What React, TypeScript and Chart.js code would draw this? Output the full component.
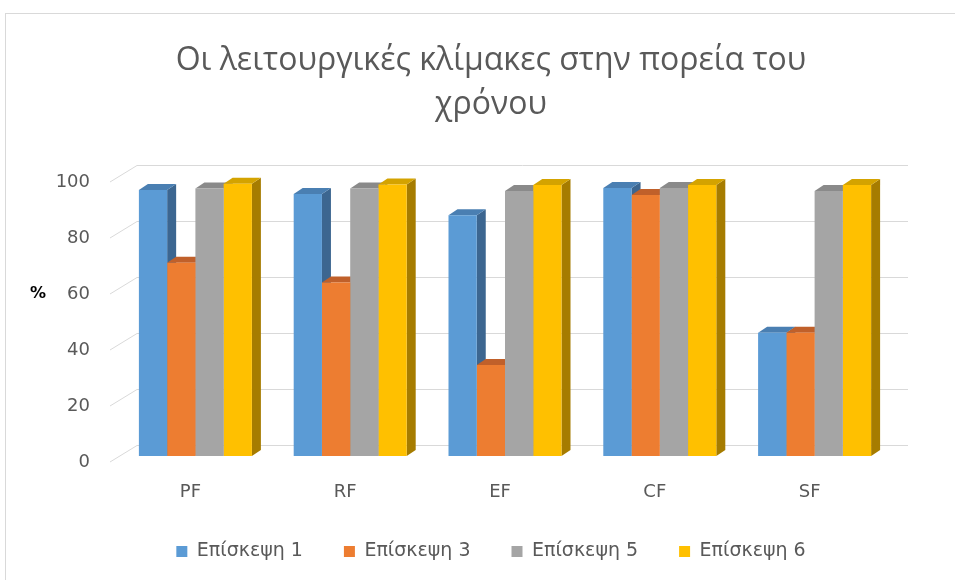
import React, { useEffect, useRef } from "react";
import { Chart, registerables } from "chart.js";

Chart.register(...registerables);

const categories = ["PF", "RF", "EF", "CF", "SF"];
const seriesNames = ["Επίσκεψη 1", "Επίσκεψη 3", "Επίσκεψη 5", "Επίσκεψη 6"];
const visit1 = [95, 93.6, 86, 95.7, 44];
const visit3 = [69, 62, 32.5, 93.2, 44];
const visit5 = [95.5, 95.5, 94.6, 95.7, 94.6];
const visit6 = [97.2, 97, 96.8, 96.8, 96.8];
const yTicks = [0, 20, 40, 60, 80, 100];
const titleLines = ["Οι λειτουργικές κλίμακες στην πορεία του", "χρόνου"];
const axisUnit = "%";

const frontColors = ["#5B9BD5", "#ED7D31", "#A5A5A5", "#FFC000"];
const topColors = ["#4a7fb2", "#c0602a", "#8a8a8a", "#d4a300"];
const sideColors = ["#3c6690", "#a9531c", "#7b7b7b", "#a67c00"];

const textColor = "#595959";
const gridColor = "#d9d9d9";

const depthPlugin = {
  id: "depth3d",
  beforeDraw(chart: any) {
    const ctx = chart.ctx;
    ctx.save();
    ctx.strokeStyle = gridColor;
    ctx.lineWidth = 1;
    ctx.strokeRect(5.5, 13.5, 2000, 2000);
    ctx.restore();
  },
  beforeDatasetsDraw(chart: any) {
    const { ctx, chartArea, scales } = chart;
    const ys = scales.y;
    ctx.save();
    ctx.strokeStyle = gridColor;
    ctx.lineWidth = 1;
    const backL = chartArea.left + 19;
    const backR = chartArea.right + 16;
    yTicks.forEach((v) => {
      const py = ys.getPixelForValue(v);
      const by = Math.round(py - 11) + 0.5;
      ctx.beginPath();
      ctx.moveTo(backL, by);
      ctx.lineTo(backR, by);
      ctx.moveTo(chartArea.left - 8, py + 6);
      ctx.lineTo(backL, by);
      ctx.stroke();
    });
    ctx.fillStyle = "#000000";
    ctx.font = "bold 16px 'DejaVu Sans'";
    ctx.textAlign = "center";
    ctx.textBaseline = "middle";
    ctx.fillText(axisUnit, chartArea.left - 80, ys.getPixelForValue(60) + 6);

    const dx = 9;
    const dy = -6;
    chart.data.datasets.forEach((_ds: any, i: number) => {
      const meta = chart.getDatasetMeta(i);
      meta.data.forEach((bar: any) => {
        const { x, y, base, width } = bar.getProps(["x", "y", "base", "width"], true);
        const l = x - width / 2;
        const r = x + width / 2;
        ctx.fillStyle = sideColors[i];
        ctx.beginPath();
        ctx.moveTo(r, y);
        ctx.lineTo(r + dx, y + dy);
        ctx.lineTo(r + dx, base + dy);
        ctx.lineTo(r, base);
        ctx.closePath();
        ctx.fill();
        ctx.fillStyle = topColors[i];
        ctx.beginPath();
        ctx.moveTo(l, y);
        ctx.lineTo(l + dx, y + dy);
        ctx.lineTo(r + dx, y + dy);
        ctx.lineTo(r, y);
        ctx.closePath();
        ctx.fill();
      });
    });
    ctx.restore();
  },
};

export default function App() {
  const canvasRef = useRef<HTMLCanvasElement | null>(null);

  useEffect(() => {
    if (!canvasRef.current) return;
    const values = [visit1, visit3, visit5, visit6];
    const chart = new Chart(canvasRef.current, {
      type: "bar",
      data: {
        labels: categories,
        datasets: values.map((vals, i) => ({
          label: seriesNames[i],
          data: vals,
          backgroundColor: frontColors[i],
          borderWidth: 0,
          categoryPercentage: 0.73,
          barPercentage: 1.0,
        })),
      },
      plugins: [depthPlugin],
      options: {
        responsive: false,
        animation: false,
        events: [],
        layout: { padding: { left: 32, right: 5, top: 39, bottom: 9 } },
        plugins: {
          title: {
            display: true,
            text: titleLines,
            color: textColor,
            font: { family: "'Open Sans'", size: 32, weight: "normal", lineHeight: 1.375 },
            padding: { top: 0, bottom: 49 },
          },
          legend: {
            position: "bottom",
            labels: {
              boxWidth: 11,
              boxHeight: 11,
              padding: 41,
              color: textColor,
              font: { family: "'DejaVu Sans'", size: 19 },
            },
          },
          tooltip: { enabled: false },
        },
        scales: {
          x: {
            grid: { display: false, drawTicks: false },
            border: { display: false },
            ticks: {
              padding: 26,
              labelOffset: -5,
              color: textColor,
              font: { family: "'DejaVu Sans'", size: 18 },
            },
            afterFit: (s: any) => {
              s.height = 45;
            },
          },
          y: {
            min: 0,
            max: 100,
            grid: { display: false, drawTicks: false },
            border: { display: false },
            ticks: {
              stepSize: 20,
              padding: 28,
              labelOffset: 6,
              color: textColor,
              font: { family: "'DejaVu Sans'", size: 18 },
            },
            afterFit: (s: any) => {
              s.width = 86;
            },
          },
          y2: {
            position: "right",
            display: true,
            grid: { display: false, drawTicks: false },
            border: { display: false },
            ticks: { display: false },
            afterFit: (s: any) => {
              s.width = 58;
            },
          },
        },
      } as any,
    });
    return () => chart.destroy();
  }, []);

  return (
    <div style={{ position: "fixed", left: 0, top: 0, width: 955, height: 580, background: "#ffffff" }}>
      <canvas ref={canvasRef} width={955} height={580} style={{ display: "block" }} />
    </div>
  );
}
